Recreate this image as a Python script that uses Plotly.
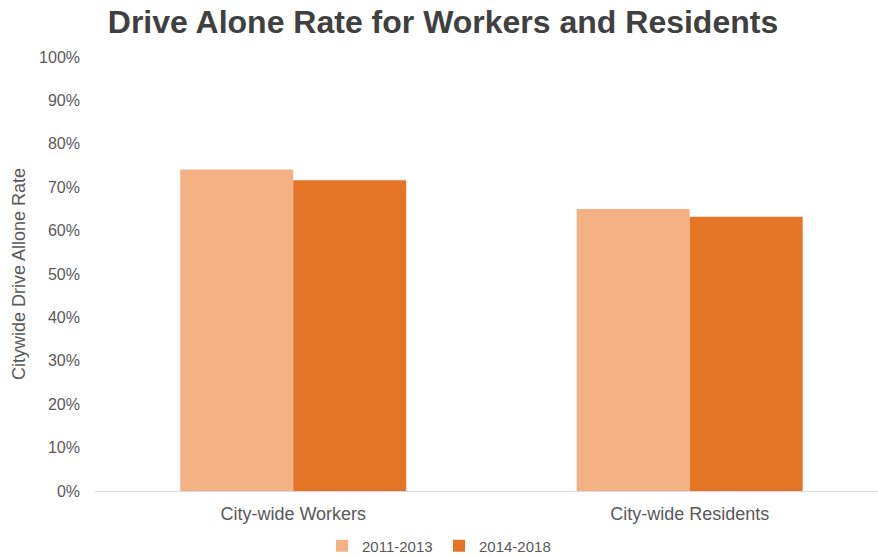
import plotly.graph_objects as go

categories = ["City-wide Workers", "City-wide Residents"]
series_names = ["2011-2013", "2014-2018"]
values_2011_2013 = [0.741, 0.650]
values_2014_2018 = [0.716, 0.632]
colors = ["#F4B183", "#E47526"]
tick_vals = [i / 10 for i in range(11)]
tick_text = [f"{i*10}%" for i in range(11)]
y_title = "Citywide Drive Allone Rate"

W, H = 878, 558
L, T, B = 95, 57, 67
PW = W - L

fig = go.Figure()
for name, vals, col in zip(series_names, [values_2011_2013, values_2014_2018], colors):
    fig.add_trace(go.Bar(x=[0, 1], y=vals, name=name, marker=dict(color=col, line=dict(width=0))))

fig.add_annotation(text=y_title, textangle=-90, xref="paper", yref="paper",
                   x=(19 - L) / PW, y=(H - B - 274) / (H - T - B),
                   xanchor="center", yanchor="middle", showarrow=False,
                   font=dict(size=18, color="#595959"))

fig.update_layout(
    width=W, height=H,
    margin=dict(l=L, r=0, t=T, b=B, autoexpand=False),
    paper_bgcolor="white", plot_bgcolor="white",
    barmode="group", bargap=0.43, bargroupgap=0,
    font=dict(family="Liberation Sans, Arial", color="#595959"),
    title=dict(text="<b>Drive Alone Rate for Workers and Residents</b>",
               x=443/878, xanchor="center", y=1 - 22/558, yanchor="middle",
               font=dict(size=32, color="#404040", family="Liberation Sans, Arial")),
    showlegend=True,
    legend=dict(orientation="h", x=(322 - L) / PW, xanchor="left",
                y=1 - 546/558, yanchor="middle", yref="container",
                font=dict(size=15, color="#595959"), traceorder="normal",
                itemwidth=30, entrywidth=72, entrywidthmode="pixels"),
    xaxis=dict(range=[-0.5, 1.475], tickmode="array", tickvals=[0, 1], ticktext=categories,
               showline=True, linecolor="#D9D9D9", linewidth=1, ticks="",
               automargin=False, ticklabelstandoff=6,
               tickfont=dict(size=18, color="#595959"), showgrid=False, zeroline=False),
    yaxis=dict(range=[0, 1], tickmode="array", tickvals=tick_vals, ticktext=tick_text,
               showgrid=False, zeroline=False, showline=False, ticks="",
               automargin=False, ticklabelstandoff=14,
               tickfont=dict(size=16, color="#595959")),
)

fig.write_html("out.html", config={"displayModeBar": False},
               post_script="document.body.style.margin='0';")
